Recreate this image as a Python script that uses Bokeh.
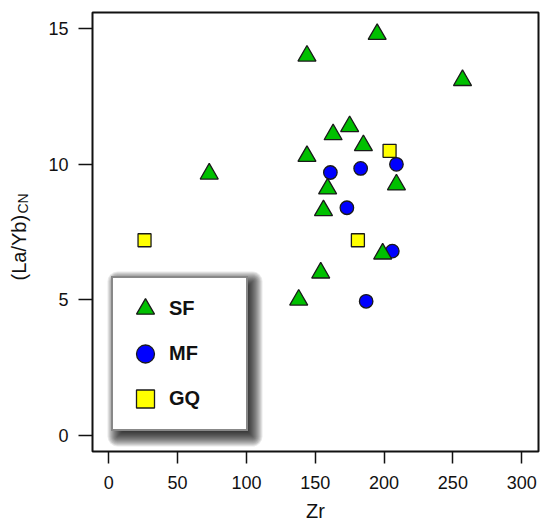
import math

from bokeh.embed import file_html
from bokeh.models import (BoxAnnotation, ColumnDataSource, FixedTicker, Label,
                          Legend, LegendItem)
from bokeh.plotting import figure
from bokeh.resources import INLINE

# Zr (ppm) and chondrite-normalised La/Yb for each rock group
sf_zr = [73, 138, 144, 144, 154, 156, 159, 163, 175, 185, 195, 199, 209, 257]
sf_layb = [9.65, 5.0, 14.0, 10.3, 6.0, 8.3, 9.1, 11.1, 11.4, 10.7, 14.8, 6.7, 9.25, 13.1]

mf_zr = [161, 173, 183, 187, 206, 209]
mf_layb = [9.7, 8.4, 9.85, 4.95, 6.8, 10.0]

gq_zr = [26, 181, 204]
gq_layb = [7.2, 7.2, 10.5]

x_ticks = [0, 50, 100, 150, 200, 250, 300]
y_ticks = [0, 5, 10, 15]

FONT = "Liberation Sans"
W, H = 540, 524
BORDER_L, BORDER_R, BORDER_T, BORDER_B = 92, 2, 12, 73
X0, X1 = -11.8, 312.2
Y0, Y1 = -0.59, 15.6

p = figure(width=W, height=H, x_range=(X0, X1), y_range=(Y0, Y1),
           output_backend="svg", toolbar_location=None,
           min_border_left=BORDER_L, min_border_right=BORDER_R,
           min_border_top=BORDER_T, min_border_bottom=BORDER_B)
p.background_fill_color = "white"
p.border_fill_color = "white"
p.grid.visible = False
p.outline_line_color = "#111111"
p.outline_line_width = 2

for ax in (p.xaxis[0], p.yaxis[0]):
    ax.axis_line_color = None
    ax.minor_tick_line_color = None
    ax.major_tick_in = 0
    ax.major_tick_line_color = "#111111"
    ax.major_tick_line_width = 1.5
    ax.major_label_text_font = FONT
    ax.major_label_text_font_size = "18px"
    ax.major_label_text_color = "#111111"

p.xaxis.ticker = FixedTicker(ticks=x_ticks)
p.yaxis.ticker = FixedTicker(ticks=y_ticks)
p.xaxis.major_tick_out = 12
p.yaxis.major_tick_out = 14
p.xaxis.major_label_standoff = 12
p.yaxis.major_label_standoff = 10

p.xaxis.axis_label = "Zr"
p.xaxis.axis_label_text_font = FONT
p.xaxis.axis_label_text_font_size = "20px"
p.xaxis.axis_label_text_font_style = "normal"
p.xaxis.axis_label_text_color = "#111111"
p.xaxis.axis_label_standoff = 8

frame_w = W - BORDER_L - BORDER_R
frame_h = H - BORDER_T - BORDER_B


def px_x(v):
    return X0 + v * (X1 - X0) / frame_w


def px_y(v):
    return Y0 + v * (Y1 - Y0) / frame_h


# rotated y label "(La/Yb)" with subscript "CN", each in its own left side panel
label_style = dict(angle=math.pi / 2, text_align="left", text_baseline="alphabetic",
                   text_font=FONT, text_color="#111111",
                   x_units="screen", y_units="screen")
p.add_layout(Label(x=-7, y=238, text="CN", text_font_size="14px", **label_style), "left")
p.add_layout(Label(x=11, y=171, text="(La/Yb)", text_font_size="20px", **label_style), "left")

mf = p.scatter(x="zr", y="layb", source=ColumnDataSource(dict(zr=mf_zr, layb=mf_layb)),
               marker="circle", size=13.5, fill_color="#0000ff",
               line_color="#1a1a1a", line_width=1.3)
gq = p.scatter(x="zr", y="layb", source=ColumnDataSource(dict(zr=gq_zr, layb=gq_layb)),
               marker="square", size=13, fill_color="#ffff00",
               line_color="#1a1a1a", line_width=1.3)
sf = p.scatter(x="zr", y="layb", source=ColumnDataSource(dict(zr=sf_zr, layb=sf_layb)),
               marker="triangle", size=18, fill_color="#00c000",
               line_color="#1a1a1a", line_width=1.3)

# legend box geometry (screen px from the frame's bottom-left corner)
LEG_X, LEG_Y = 19, 20
LEG_PAD, GLYPH_W, GLYPH_H, LABEL_W = 8, 48, 45, 69
LEG_W = 2 * LEG_PAD + GLYPH_W + LABEL_W + 2
LEG_H = 2 * LEG_PAD + 3 * GLYPH_H + 4

# soft drop shadow behind the legend, built from stacked translucent boxes
SH_DX, SH_DY = 6, -5
for e in range(-10, 11):
    p.add_layout(BoxAnnotation(
        left=px_x(LEG_X + SH_DX - e), right=px_x(LEG_X + LEG_W + SH_DX + e),
        bottom=px_y(LEG_Y + SH_DY - e), top=px_y(LEG_Y + LEG_H + SH_DY + e),
        fill_color="black", fill_alpha=0.085, line_color=None,
        border_radius=max(e, 0), propagate_hover=False))

legend = Legend(items=[LegendItem(label="SF", renderers=[sf]),
                       LegendItem(label="MF", renderers=[mf]),
                       LegendItem(label="GQ", renderers=[gq])],
                location=(LEG_X, LEG_Y), orientation="vertical",
                glyph_width=GLYPH_W, glyph_height=GLYPH_H, spacing=0,
                padding=LEG_PAD, margin=0, label_standoff=0, label_width=LABEL_W,
                label_text_font=FONT, label_text_font_size="20px",
                label_text_font_style="bold", label_text_color="#111111",
                border_line_color="#111111", border_line_width=2,
                background_fill_color="white", background_fill_alpha=1.0)
p.add_layout(legend)

open("out.html", "w").write(file_html(p, INLINE))
